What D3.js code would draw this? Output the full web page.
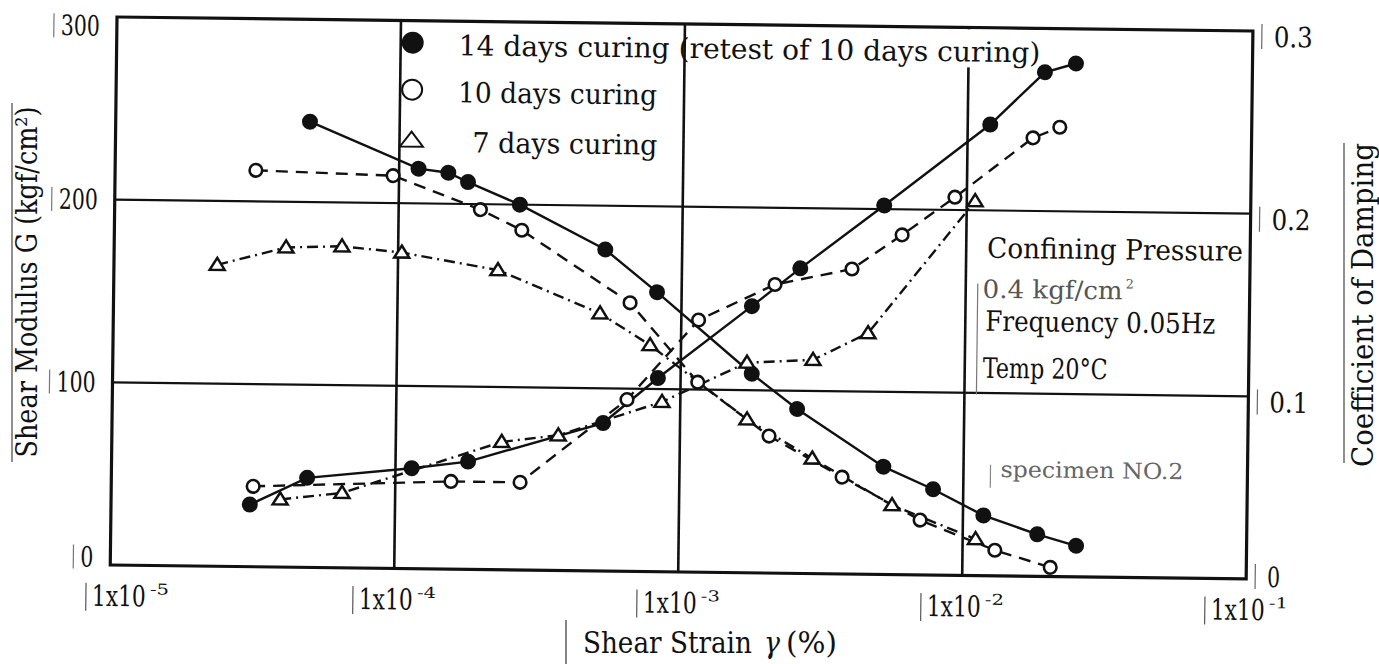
<!DOCTYPE html>
<html>
<head>
<meta charset="utf-8">
<script src="https://cdn.jsdelivr.net/npm/d3@7"></script>
<style>
  body { margin: 0; background: #fff; }
  svg { display: block; }
</style>
</head>
<body>
<svg id="chart" width="1379" height="664"></svg>
<script>
// ---- values ----
const xTicks = [1e-5, 1e-4, 1e-3, 1e-2, 1e-1];
const xTickExp = ["-5", "-4", "-3", "-2", "-1"];
const gTicks = [0, 100, 200, 300];
const hTicks = [0, 0.1, 0.2, 0.3];
const hTickLabels = ["0", "0.1", "0.2", "0.3"];

const legendLabels = ["14 days curing (retest of 10 days curing)", "10 days curing", "7 days curing"];

// shear modulus G (kgf/cm2)
const g14Strain = [4.83e-5, 1.17e-4, 1.49e-4, 1.75e-4, 2.67e-4, 5.36e-4, 8.19e-4, 1.78e-3, 2.58e-3, 5.22e-3, 7.83e-3, 1.18e-2, 1.83e-2, 2.51e-2];
const g14 = [244, 219, 217, 212, 200, 176, 153, 109, 90, 59, 47, 33, 23, 17];
const g10Strain = [3.13e-5, 9.53e-5, 1.94e-4, 2.72e-4, 6.59e-4, 1.15e-3, 2.06e-3, 3.74e-3, 7.07e-3, 1.30e-2, 2.04e-2];
const g10 = [217, 215, 197, 186, 147, 104, 75, 53, 30, 14, 5];
const g7Strain = [2.31e-5, 4.03e-5, 6.34e-5, 1.03e-4, 2.25e-4, 5.17e-4, 7.78e-4, 1.72e-3, 2.93e-3, 5.62e-3, 1.11e-2];
const g7 = [165, 175, 176, 173, 164, 141, 124, 84, 63, 38, 20];

// coefficient of damping
const h14Strain = [3.08e-5, 4.89e-5, 1.14e-4, 1.80e-4, 5.36e-4, 8.32e-4, 1.77e-3, 2.61e-3, 5.12e-3, 1.20e-2, 1.86e-2, 2.39e-2];
const h14 = [0.034, 0.049, 0.055, 0.059, 0.081, 0.106, 0.146, 0.167, 0.202, 0.247, 0.276, 0.281];
const h10Strain = [3.16e-5, 1.57e-4, 2.75e-4, 6.49e-4, 1.15e-3, 2.13e-3, 3.97e-3, 5.94e-3, 9.08e-3, 1.70e-2, 2.11e-2];
const h10 = [0.044, 0.048, 0.048, 0.094, 0.138, 0.158, 0.167, 0.186, 0.207, 0.240, 0.246];
const h7Strain = [3.94e-5, 6.50e-5, 2.36e-4, 3.73e-4, 8.62e-4, 1.71e-3, 2.92e-3, 4.55e-3, 1.07e-2];
const h7 = [0.037, 0.041, 0.070, 0.074, 0.093, 0.115, 0.117, 0.132, 0.205];

// ---- layout ----
const FONT = "'DejaVu Serif', serif";
const INK = "#111";
const W = 1136, H = 548;
// the scan is tilted a little, so the whole plot frame is too
const TILT = 0.705;

const svg = d3.select("#chart");
const plot = svg.append("g").attr("transform", `translate(117,17) rotate(${TILT})`);

const x = d3.scaleLog().domain([1e-5, 1e-1]).range([0, W]);
const yG = d3.scaleLinear().domain([0, 300]).range([H, 0]);
const yH = d3.scaleLinear().domain([0, 0.3]).range([H, 0]);

const styles = {
    14: { dash: null, marker: "filled" },
    10: { dash: "12,8", marker: "open" },
    7: { dash: "11,5,2,5", marker: "tri" }
};

const series = [
    { xs: g14Strain, ys: g14, y: yG, days: 14 },
    { xs: g10Strain, ys: g10, y: yG, days: 10 },
    { xs: g7Strain, ys: g7, y: yG, days: 7 },
    { xs: h14Strain, ys: h14, y: yH, days: 14 },
    { xs: h10Strain, ys: h10, y: yH, days: 10 },
    { xs: h7Strain, ys: h7, y: yH, days: 7 }
];

// text squeezed sideways to width w (the scan uses a narrow typewriter face)
function txt(parent, s, px, py, w, size, o = {}) {
    const t = parent.append("text")
        .attr("font-family", FONT)
        .attr("font-size", size)
        .attr("fill", o.fill || INK)
        .text(s);
    if (o.anchor) t.attr("text-anchor", o.anchor);
    if (o.dy) t.attr("dy", o.dy);
    if (o.italic) t.attr("font-style", "italic");
    const k = w ? w / t.node().getComputedTextLength() : 1;
    const rot = o.rotate ? ` rotate(${o.rotate})` : "";
    t.attr("transform", `translate(${px},${py})${rot} scale(${k},1)`);
    return t;
}

function bar(parent, px, y1, y2, color) {
    parent.append("line")
        .attr("x1", px).attr("x2", px).attr("y1", y1).attr("y2", y2)
        .attr("stroke", color || "#444").attr("stroke-width", 1.2);
}

function marker(parent, kind, cx, cy, big) {
    if (kind === "filled") {
        parent.append("circle").attr("cx", cx).attr("cy", cy)
            .attr("r", big ? 11 : 8).attr("fill", INK);
    } else if (kind === "open") {
        parent.append("circle").attr("cx", cx).attr("cy", cy)
            .attr("r", big ? 10 : 6.3).attr("fill", "#fff")
            .attr("stroke", INK).attr("stroke-width", big ? 2 : 2.6);
    } else {
        const hw = big ? 11.5 : 7.5, up = big ? 8 : 7, dn = big ? 7 : 5;
        parent.append("path")
            .attr("d", `M${cx},${cy - up}L${cx + hw},${cy + dn}L${cx - hw},${cy + dn}Z`)
            .attr("fill", "#fff").attr("stroke", INK)
            .attr("stroke-width", big ? 2 : 2.5).attr("stroke-linejoin", "miter");
    }
}

// ---- grid and frame ----
plot.selectAll(".vgrid").data(xTicks.slice(1, -1)).join("line")
    .attr("class", "vgrid")
    .attr("x1", d => x(d)).attr("x2", d => x(d))
    .attr("y1", 0).attr("y2", H)
    .attr("stroke", INK).attr("stroke-width", 2.6);

plot.selectAll(".hgrid").data(gTicks.slice(1, -1)).join("line")
    .attr("class", "hgrid")
    .attr("x1", 0).attr("x2", W)
    .attr("y1", d => yG(d)).attr("y2", d => yG(d))
    .attr("stroke", INK).attr("stroke-width", 2.2);

plot.append("rect")
    .attr("x", 0).attr("y", 0).attr("width", W).attr("height", H)
    .attr("fill", "none").attr("stroke", INK).attr("stroke-width", 3.2);

// ---- tick labels ----
gTicks.forEach(g => {
    const s = String(g);
    const yy = Math.min(Math.max(yG(g), 9), 540);
    const w = s.length * 13;
    txt(plot, s, -17, yy, w, 28, { anchor: "end", dy: "0.35em" });
    bar(plot, -17 - w - 7, yy - 12, yy + 12, "#777");
});

hTicks.forEach((h, i) => {
    const s = hTickLabels[i];
    const yy = Math.min(yH(h) + 6, 546);
    txt(plot, s, W + 21, yy, s.length * 13, 28, { dy: "0.35em" });
    bar(plot, W + 9, yy - 13, yy + 12, "#666");
});

// "1x10" plus a separate raised exponent
xTicks.forEach((v, i) => {
    const left = Math.max(x(v) + 5, 22) - 40;
    txt(plot, "1x10", left, 589, 54, 29);
    txt(plot, xTickExp[i], left + 58, 577, 19, 15);
    bar(plot, left - 6, 566, 594, "#555");
});

// ---- legend ----
// white patch: the 1e-2 grid line stops short of the first legend row
plot.append("rect").attr("x", 842).attr("y", 2).attr("width", 90).attr("height", 38).attr("fill", "#fff");

const legendRows = [22, 69, 119];
const legendX = [342, 342, 357];
const legendW = [582, 199, 185];
[14, 10, 7].forEach((days, i) => {
    marker(plot, styles[days].marker, 296, legendRows[i], true);
    txt(plot, legendLabels[i], legendX[i], legendRows[i] + 12, legendW[i], 28);
});

// ---- curves ----
series.forEach(s => {
    const pts = s.xs.map((v, i) => [v, s.ys[i]]);
    const line = d3.line().x(d => x(d[0])).y(d => s.y(d[1]));
    plot.append("path")
        .attr("d", line(pts))
        .attr("fill", "none")
        .attr("stroke", INK)
        .attr("stroke-width", 2.4)
        .attr("stroke-dasharray", styles[s.days].dash);
});
series.forEach(s => {
    s.xs.forEach((v, i) => marker(plot, styles[s.days].marker, x(v), s.y(s.ys[i]), false));
});

// ---- test conditions box ----
txt(plot, "Confining Pressure", 873, 230, 256, 28);
txt(plot, "0.4 kgf/cm", 869, 270, 140, 25, { fill: "#555" });
txt(plot, "2", 1012, 259, 8, 13, { fill: "#555" });
txt(plot, "Frequency 0.05Hz", 872, 303, 230, 28);
txt(plot, "Temp 20°C", 870, 350, 125, 28);
txt(plot, "specimen NO.2", 889, 449, 183, 22, { fill: "#666" });
bar(plot, 864, 256, 367, "#777");
bar(plot, 879, 437, 460, "#888");

// ---- axis titles ----
txt(svg, "Shear Strain", 583, 653, 169, 29);
txt(svg, "γ", 764, 653, 16, 29, { italic: true });
txt(svg, "(%)", 786, 653, 51, 29);
bar(svg, 566, 620, 664, "#333");

txt(svg, "Shear Modulus G (kgf/cm²)", 37, 282, 351, 30, { anchor: "middle", rotate: -90 });
bar(svg, 12, 103, 462, "#444");

txt(svg, "Coefficient of Damping", 1373, 305, 324, 30, { anchor: "middle", rotate: -90 });
bar(svg, 1344, 143, 463, "#444");
</script>
</body>
</html>
